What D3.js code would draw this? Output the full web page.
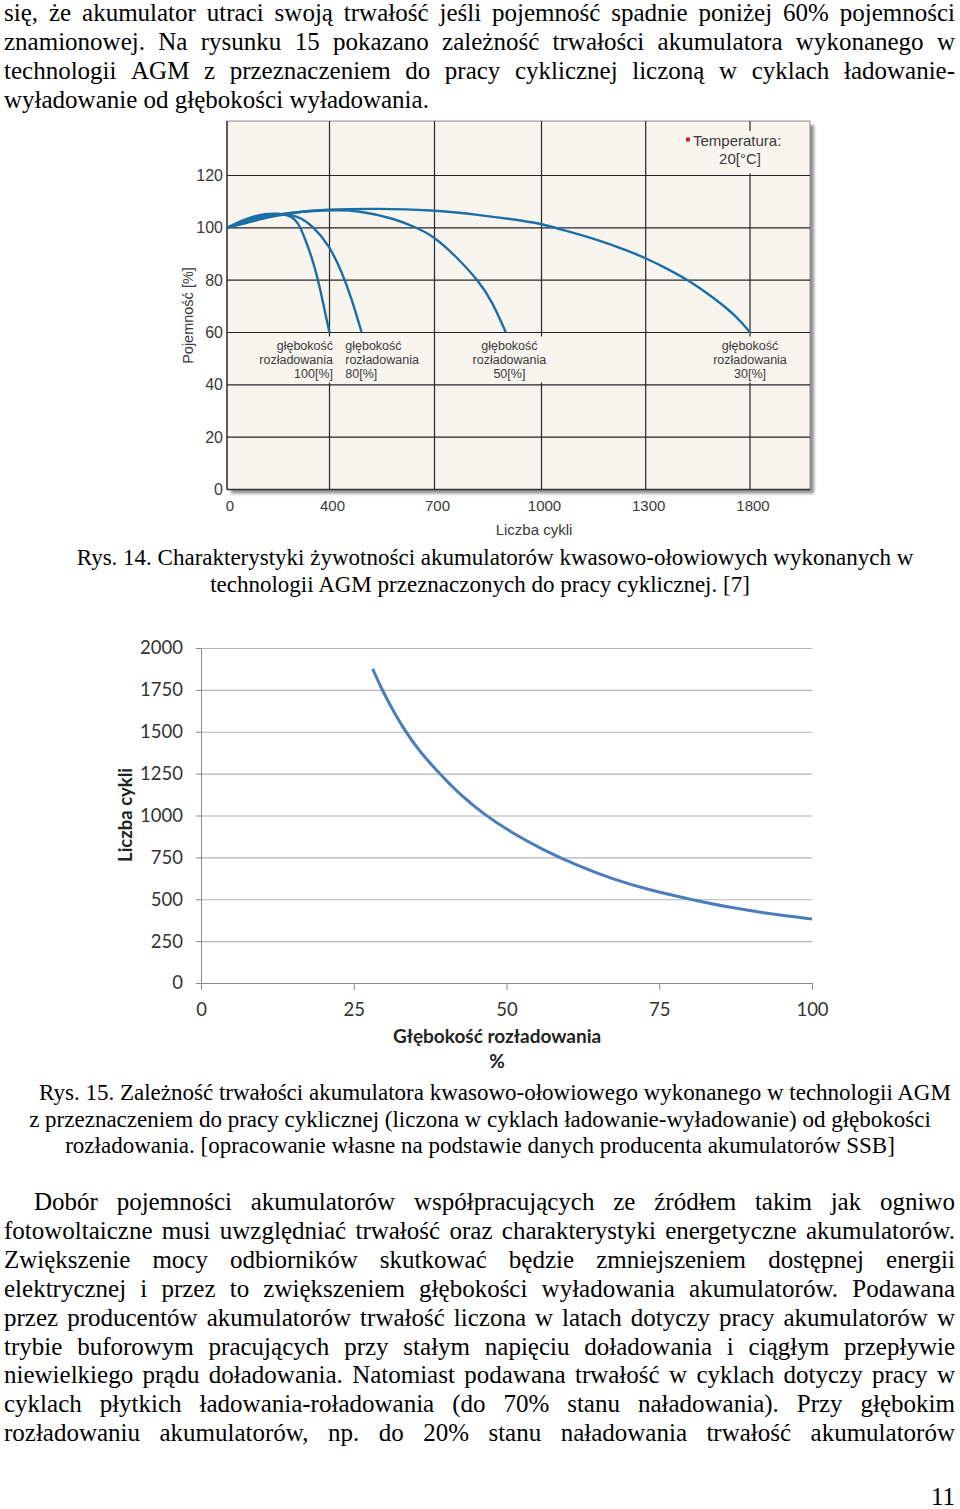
<!DOCTYPE html>
<html>
<head>
<meta charset="utf-8">
<script src="https://cdn.jsdelivr.net/npm/d3@7"></script>
<style>
  body { margin: 0; background: #fff; }
  svg { display: block; }
</style>
</head>
<body>
<svg id="page" width="960" height="1509"></svg>
<script>
// ---- text of the page ----
const topLines = [
  "się, że akumulator utraci swoją trwałość jeśli pojemność spadnie poniżej 60% pojemności",
  "znamionowej. Na rysunku 15 pokazano zależność trwałości akumulatora wykonanego w",
  "technologii AGM z przeznaczeniem do pracy cyklicznej liczoną w cyklach ładowanie-",
  "wyładowanie od głębokości wyładowania."
];
const caption14 = [
  "Rys. 14. Charakterystyki żywotności akumulatorów kwasowo-ołowiowych wykonanych w",
  "technologii AGM przeznaczonych do pracy cyklicznej. [7]"
];
const caption15 = [
  "Rys. 15. Zależność trwałości akumulatora kwasowo-ołowiowego wykonanego w technologii AGM",
  "z przeznaczeniem do pracy cyklicznej (liczona w cyklach ładowanie-wyładowanie) od głębokości",
  "rozładowania. [opracowanie własne na podstawie danych producenta akumulatorów SSB]"
];
const bottomLines = [
  "Dobór pojemności akumulatorów współpracujących ze źródłem takim jak ogniwo",
  "fotowoltaiczne musi uwzględniać trwałość oraz charakterystyki energetyczne akumulatorów.",
  "Zwiększenie mocy odbiorników skutkować będzie zmniejszeniem dostępnej energii",
  "elektrycznej i przez to zwiększeniem głębokości wyładowania akumulatorów. Podawana",
  "przez producentów akumulatorów trwałość liczona w latach dotyczy pracy akumulatorów w",
  "trybie buforowym pracujących przy stałym napięciu doładowania i ciągłym przepływie",
  "niewielkiego prądu doładowania. Natomiast podawana trwałość w cyklach dotyczy pracy w",
  "cyklach płytkich ładowania-roładowania (do 70% stanu naładowania). Przy głębokim",
  "rozładowaniu akumulatorów, np. do 20% stanu naładowania trwałość akumulatorów"
];

// ---- Rys. 14 data: [cycles, capacity %] ----
const cycleTicks = [0, 400, 700, 1000, 1300, 1800];
const capacityTicks = [0, 20, 40, 60, 80, 100, 120];
const dod100 = [[0,100],[40,102],[90,104],[148,105.4],[200,105.5],[240,104.8],[265,103.4],[285,100.5],[304,96],[337,87.1],[363,76.9],[382,68],[400,60]];
const dod80 = [[0,100],[50,102.2],[110,104],[180,105.1],[252,105.2],[290,103.6],[330,101.1],[399,93.4],[435,83.2],[463,73.1],[492,60]];
const dod50 = [[0,100],[60,102],[130,104],[220,105.5],[320,106.4],[420,106.8],[480,106.6],[585,103.6],[642,100.4],[693,97.3],[757,89.6],[824,79.7],[862,71.8],[900,60]];
const dod30 = [[0,100],[80,102],[170,104.3],[270,106],[380,107],[537,107.4],[693,106.8],[824,105],[968,102.3],[1001,101.4],[1063,99.2],[1160,95.6],[1255,90.9],[1300,88.4],[1384,85.2],[1512,79.7],[1620,73.6],[1700,68.6],[1764,63.6],[1800,60]];
const dodNames = ["100[%]", "80[%]", "50[%]", "30[%]"];
const dodLabelAt = [410, 445, 910, 1800];

// ---- Rys. 15 data ----
const depthPct = [28.1, 29.6, 31.5, 33.4, 35.8, 39.1, 42.4, 46.2, 50.6, 55.8, 62.0, 67.5, 72.9, 80.0, 86.6, 93.7, 100];
const cycleCount = [1875, 1752, 1622, 1505, 1380, 1248, 1125, 1010, 903, 798, 694, 619, 560, 500, 450, 410, 382];
const depthTicks = [0, 25, 50, 75, 100];
const countTicks = [0, 250, 500, 750, 1000, 1250, 1500, 1750, 2000];

const svg = d3.select("#page");
const serif = "'Liberation Serif', 'Times New Roman', serif";
const bodySize = 25;

// justified line: words spread between x0 and x1
function justifyLine(g, line, x0, x1, y, size, last) {
  const words = line.split(" ");
  const t = g.append("g").attr("font-size", size);
  const nodes = words.map(w => t.append("text").attr("y", y).text(w));
  const widths = nodes.map(n => n.node().getComputedTextLength());
  const total = d3.sum(widths);
  const space = size * 0.25;
  let gap = last ? space : (x1 - x0 - total) / (words.length - 1);
  let k = 1;
  if (gap < space * 0.5) {
    gap = space * 0.5;
    k = (x1 - x0 - gap * (words.length - 1)) / total;
  }
  let x = x0;
  nodes.forEach((n, i) => {
    n.attr("x", x);
    if (k < 1) n.attr("textLength", widths[i] * k).attr("lengthAdjust", "spacingAndGlyphs");
    x += widths[i] * k + gap;
  });
}

const text = svg.append("g").attr("font-family", serif).attr("fill", "#000");
topLines.forEach((l, i) => justifyLine(text, l, 4, 955, 21 + i * 29, bodySize, i === topLines.length - 1));
bottomLines.forEach((l, i) => justifyLine(text, l, i === 0 ? 34 : 4, 955, 1210 + i * 28.9, bodySize, false));

const capG = svg.append("g").attr("font-family", serif).attr("font-size", 23).attr("text-anchor", "middle");
caption14.forEach((l, i) => capG.append("text").attr("x", i === 0 ? 495 : 480).attr("y", 565 + i * 26.5).text(l));
caption15.forEach((l, i) => capG.append("text").attr("x", i === 0 ? 495 : 480).attr("y", 1100 + i * 26.5).text(l));

text.append("text").attr("x", 955).attr("y", 1505).attr("text-anchor", "end").attr("font-size", bodySize).text("11");

// ================= Rys. 14 =================
const sans = "'Liberation Sans', Arial, sans-serif";
const x1 = d3.scaleLinear()
  .domain(cycleTicks)
  .range([227, 329.5, 434.5, 541.5, 645.7, 750]);
const y1 = d3.scaleLinear().domain([0, 120]).range([489.5, 175.5]);
const box = { x: 227, y: y1(140.8), w: 810 - 227, h: y1(0) - y1(140.8) };

const defs = svg.append("defs");
defs.append("filter").attr("id", "shadow").attr("x", "-5%").attr("y", "-5%").attr("width", "115%").attr("height", "115%")
  .append("feGaussianBlur").attr("stdDeviation", 1.6);

const c1 = svg.append("g");
c1.append("rect").attr("x", box.x + 4).attr("y", box.y + 4).attr("width", box.w).attr("height", box.h)
  .attr("fill", "#8f8f8f").attr("filter", "url(#shadow)");
c1.append("rect").attr("x", box.x).attr("y", box.y).attr("width", box.w).attr("height", box.h)
  .attr("fill", "#f8f5ef").attr("stroke", "#8a8a8a").attr("stroke-width", 1);

// grid
c1.selectAll(".hgrid").data(capacityTicks.filter(d => d > 0)).enter().append("line")
  .attr("x1", box.x).attr("x2", box.x + box.w)
  .attr("y1", d => y1(d)).attr("y2", d => y1(d))
  .attr("stroke", "#262626").attr("stroke-width", 1.2);
c1.selectAll(".vgrid").data(cycleTicks.filter(d => d > 0)).enter().append("line")
  .attr("x1", d => x1(d)).attr("x2", d => x1(d))
  .attr("y1", box.y).attr("y2", y1(0))
  .attr("stroke", "#262626").attr("stroke-width", 1.2);
c1.append("line").attr("x1", box.x).attr("x2", box.x).attr("y1", box.y).attr("y2", y1(0))
  .attr("stroke", "#333").attr("stroke-width", 1.4);
c1.append("line").attr("x1", box.x).attr("x2", box.x + box.w).attr("y1", y1(0)).attr("y2", y1(0))
  .attr("stroke", "#333").attr("stroke-width", 1.4);

// curve labels with paper-coloured backing
const lblG = c1.append("g").attr("font-family", sans).attr("font-size", 12.5).attr("fill", "#3a3a3a");
const anchors = ["end", "start", "middle", "middle"];
dodNames.forEach((name, i) => {
  const g = lblG.append("g");
  const rows = ["głębokość", "rozładowania", name];
  rows.forEach((r, j) => g.append("text")
    .attr("x", x1(dodLabelAt[i])).attr("y", y1(60) + 17 + j * 14)
    .attr("text-anchor", anchors[i]).text(r));
  const bb = g.node().getBBox();
  g.insert("rect", "text").attr("x", bb.x - 4).attr("y", bb.y - 2).attr("width", bb.width + 8).attr("height", bb.height + 4)
    .attr("fill", "#f8f5ef");
});

// legend
const leg = c1.append("g").attr("font-family", sans).attr("font-size", 15).attr("fill", "#3a3a3a");
leg.append("rect").attr("x", 680).attr("y", y1(137)).attr("width", 110).attr("height", y1(120.8) - y1(137)).attr("fill", "#f8f5ef");
leg.append("rect").attr("x", 686).attr("y", 137.5).attr("width", 4).attr("height", 4).attr("fill", "#d0202a");
leg.append("text").attr("x", 693).attr("y", 146).text("Temperatura:");
leg.append("text").attr("x", 740).attr("y", 164).attr("text-anchor", "middle").text("20[°C]");

// curves
const line1 = d3.line().x(d => x1(d[0])).y(d => y1(d[1])).curve(d3.curveBasis);
c1.selectAll(".dod").data([dod100, dod80, dod50, dod30]).enter().append("path")
  .attr("d", line1).attr("fill", "none").attr("stroke", "#1c6ea6").attr("stroke-width", 2.4);

// axes
const ax1 = c1.append("g").attr("font-family", sans).attr("font-size", 15).attr("fill", "#3a3a3a");
ax1.selectAll(".yl").data(capacityTicks).enter().append("text")
  .attr("x", 223).attr("y", d => y1(d)).attr("dy", "0.35em").attr("text-anchor", "end")
  .attr("font-size", 16).text(d => d);
ax1.selectAll(".xl").data(cycleTicks).enter().append("text")
  .attr("x", d => x1(d) + 3).attr("y", 510.5).attr("text-anchor", "middle").text(d => d);
ax1.append("text").attr("transform", `translate(193,${y1(60) - 17}) rotate(-90)`)
  .attr("text-anchor", "middle").attr("font-size", 14.5).text("Pojemność [%]");
ax1.append("text").attr("x", 534).attr("y", 535).attr("text-anchor", "middle").text("Liczba cykli");

// ================= Rys. 15 =================
const calib = "Lato, 'Open Sans', sans-serif";
const x2 = d3.scaleLinear().domain([0, 100]).range([201, 812]);
const y2 = d3.scaleLinear().domain([0, 2000]).range([983, 648]);
const c2 = svg.append("g").attr("font-family", calib);

c2.append("g").attr("transform", "translate(201,0)")
  .call(d3.axisLeft(y2).tickValues(countTicks).tickSize(-(812 - 201)).tickFormat(""))
  .call(g => g.select(".domain").remove())
  .call(g => g.selectAll(".tick line").attr("stroke", "#b3b3b3").attr("stroke-width", 1.2));

c2.append("g").attr("transform", "translate(201,0)")
  .call(d3.axisLeft(y2).tickValues(countTicks).tickFormat(d3.format("d")).tickSize(5).tickPadding(13).tickSizeOuter(0))
  .call(g => g.select(".domain").attr("stroke", "#8a8a8a"))
  .call(g => g.selectAll(".tick line").attr("stroke", "#8a8a8a"))
  .call(g => g.selectAll(".tick text").attr("font-family", calib).attr("font-size", 18.5).attr("fill", "#333"));

c2.append("g").attr("transform", "translate(0,983)")
  .call(d3.axisBottom(x2).tickValues(depthTicks).tickSize(7).tickPadding(13).tickSizeOuter(0))
  .call(g => g.select(".domain").attr("stroke", "#8a8a8a"))
  .call(g => g.selectAll(".tick line").attr("stroke", "#8a8a8a"))
  .call(g => g.selectAll(".tick text").attr("font-family", calib).attr("font-size", 18.5).attr("fill", "#333"));

const line2 = d3.line().x((d, i) => x2(depthPct[i])).y(d => y2(d)).curve(d3.curveBasis);
c2.append("path").datum(cycleCount).attr("d", line2)
  .attr("fill", "none").attr("stroke", "#4a7ebb").attr("stroke-width", 3);

c2.append("text").attr("transform", "translate(132,815) rotate(-90)").attr("text-anchor", "middle")
  .attr("font-weight", "bold").attr("font-size", 18.5).attr("fill", "#222").text("Liczba cykli");
c2.append("text").attr("x", 497).attr("y", 1043).attr("text-anchor", "middle")
  .attr("font-weight", "bold").attr("font-size", 19).attr("fill", "#222").text("Głębokość rozładowania");
c2.append("text").attr("x", 497).attr("y", 1068).attr("text-anchor", "middle")
  .attr("font-weight", "bold").attr("font-size", 19).attr("fill", "#222").text("%");
</script>
</body>
</html>
